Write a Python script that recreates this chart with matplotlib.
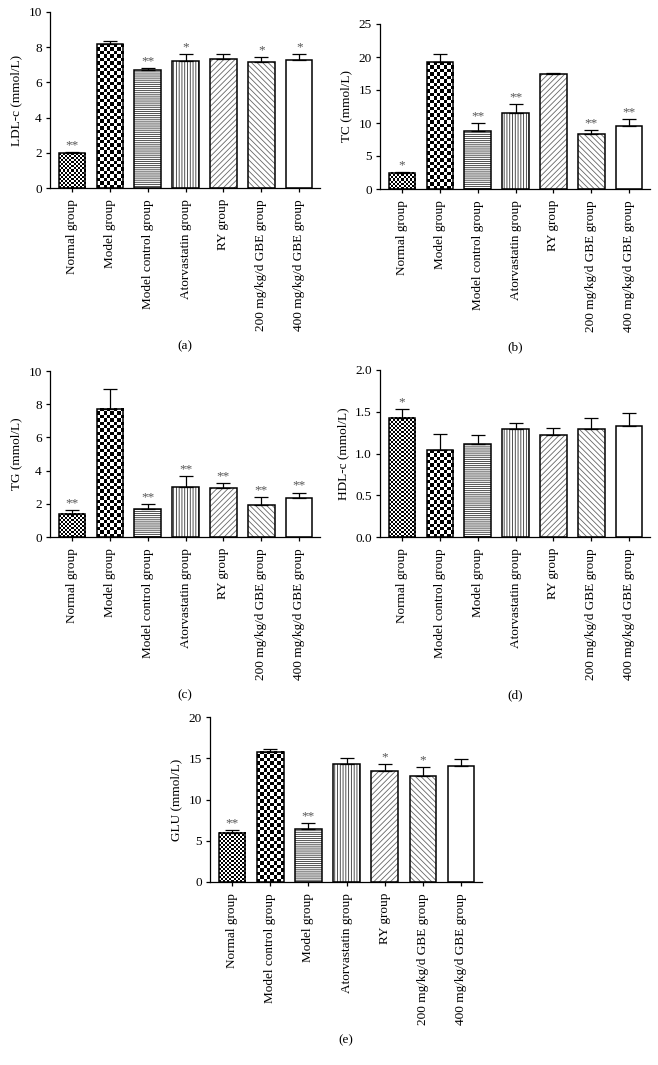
import matplotlib
matplotlib.use("Agg")
import matplotlib.pyplot as plt
import numpy as np

plt.rcParams['font.family'] = ['Liberation Serif', 'DejaVu Serif']
plt.rcParams['font.size'] = 9.5
plt.rcParams['hatch.linewidth'] = 0.6

# group order used in panels (a)-(c)
groups_abc = ['Normal group', 'Model group', 'Model control group', 'Atorvastatin group',
              'RY group', '200 mg/kg/d GBE group', '400 mg/kg/d GBE group']
# group order used in panels (d)-(e)
groups_de = ['Normal group', 'Model control group', 'Model group', 'Atorvastatin group',
             'RY group', '200 mg/kg/d GBE group', '400 mg/kg/d GBE group']

ldl = [1.97, 8.17, 6.69, 7.22, 7.35, 7.15, 7.26]
ldl_err = [0.07, 0.19, 0.11, 0.38, 0.27, 0.32, 0.38]
ldl_sig = ['**', '', '**', '*', '', '*', '*']

tc = [2.47, 19.2, 8.84, 11.46, 17.37, 8.28, 9.55]
tc_err = [0.16, 1.3, 1.16, 1.47, 0.23, 0.66, 1.05]
tc_sig = ['*', '', '**', '**', '', '**', '**']

tg = [1.41, 7.72, 1.71, 3.0, 2.96, 1.92, 2.32]
tg_err = [0.24, 1.19, 0.29, 0.69, 0.31, 0.46, 0.36]
tg_sig = ['**', '', '**', '**', '**', '**', '**']

hdl = [1.43, 1.04, 1.11, 1.29, 1.22, 1.29, 1.33]
hdl_err = [0.10, 0.19, 0.11, 0.07, 0.09, 0.13, 0.16]
hdl_sig = ['*', '', '', '', '', '', '']

glu = [5.95, 15.8, 6.44, 14.3, 13.5, 12.85, 14.05]
glu_err = [0.33, 0.3, 0.73, 0.7, 0.8, 1.05, 0.85]
glu_sig = ['**', '', '**', '', '*', '*', '']

# fill style per bar position
styles = ['fine', 'coarse', '--------', '||||||', '//////', '\\\\\\\\\\\\', None]

W, H = 658, 1065
fig = plt.figure(figsize=(W / 100, H / 100), dpi=100)


def add_ax(left, right, top, bottom):
    return fig.add_axes([left / W, 1 - bottom / H, (right - left) / W, (bottom - top) / H])


def checker(ax, bar, sq):
    x0, y0 = bar.get_x(), bar.get_y()
    w, h = bar.get_width(), bar.get_height()
    p0 = ax.transData.transform((x0, y0))
    p1 = ax.transData.transform((x0 + w, y0 + h))
    nx = max(1, int(round((p1[0] - p0[0]) / sq)))
    ny = max(1, int(round((p1[1] - p0[1]) / sq)))
    grid = np.add.outer(np.arange(ny), np.arange(nx)) % 2
    ax.imshow(grid, extent=(x0, x0 + w, y0, y0 + h), cmap='gray', origin='lower',
              interpolation='nearest', aspect='auto', zorder=1)


def panel(ax, labels, vals, errs, sigs, ymax, ystep, ylabel, caption, fmt='%d'):
    x = np.arange(len(vals))
    ax.set_xlim(-0.58, len(vals) - 0.45)
    ax.set_ylim(0, ymax)
    for i, st in enumerate(styles):
        if st in ('fine', 'coarse'):
            b = ax.bar(x[i], vals[i], width=0.7, color='white', linewidth=0, zorder=1)[0]
            checker(ax, b, 2.0 if st == 'fine' else 3.4)
        elif st is not None:
            hc = '#333333' if st[0] in '-|' else '#666666'
            ax.bar(x[i], vals[i], width=0.7, color='white', edgecolor=hc, hatch=st,
                   linewidth=0, zorder=1)
    ax.bar(x, vals, width=0.7, fill=False, edgecolor='black', linewidth=1.1, zorder=3)
    ax.errorbar(x, vals, yerr=[np.zeros(len(vals)), errs], fmt='none', ecolor='black',
                elinewidth=0.9, capsize=5, capthick=0.9, zorder=2)
    for i, s in enumerate(sigs):
        if s:
            ax.annotate(s, (x[i], vals[i] + errs[i]), xytext=(0, 0.5), textcoords='offset points',
                        ha='center', va='bottom', fontsize=9.5, color='#555555')
    ax.set_xlim(-0.58, len(vals) - 0.45)
    ax.set_ylim(0, ymax)
    ax.set_yticks(np.arange(0, ymax + ystep / 2, ystep))
    ax.yaxis.set_major_formatter(matplotlib.ticker.FormatStrFormatter(fmt))
    ax.set_xticks(x)
    ax.set_xticklabels(labels, rotation=90)
    ax.set_ylabel(ylabel, labelpad=4)
    for s in ('top', 'right'):
        ax.spines[s].set_visible(False)
    for s in ('left', 'bottom'):
        ax.spines[s].set_linewidth(0.9)
    ax.tick_params(direction='out', length=3, width=0.9, pad=3)
    ax.tick_params(axis='x', pad=5)
    # caption sits ~158 px below the x axis
    ax.annotate(caption, (0.5, 0), xycoords='axes fraction', xytext=(0, -158 * 0.72),
                textcoords='offset points', ha='center', va='center')


ax_a = add_ax(50, 320, 12, 188)
panel(ax_a, groups_abc, ldl, ldl_err, ldl_sig, 10, 2, 'LDL-c (mmol/L)', '(a)')
ax_b = add_ax(380, 650, 24, 189)
panel(ax_b, groups_abc, tc, tc_err, tc_sig, 25, 5, 'TC (mmol/L)', '(b)')
ax_c = add_ax(50, 320, 371, 537)
panel(ax_c, groups_abc, tg, tg_err, tg_sig, 10, 2, 'TG (mmol/L)', '(c)')
ax_d = add_ax(380, 650, 370, 537)
panel(ax_d, groups_de, hdl, hdl_err, hdl_sig, 2.0, 0.5, 'HDL-c (mmol/L)', '(d)', fmt='%.1f')
ax_e = add_ax(210, 482, 717, 882)
panel(ax_e, groups_de, glu, glu_err, glu_sig, 20, 5, 'GLU (mmol/L)', '(e)')

fig.savefig('out.png', dpi=100)
